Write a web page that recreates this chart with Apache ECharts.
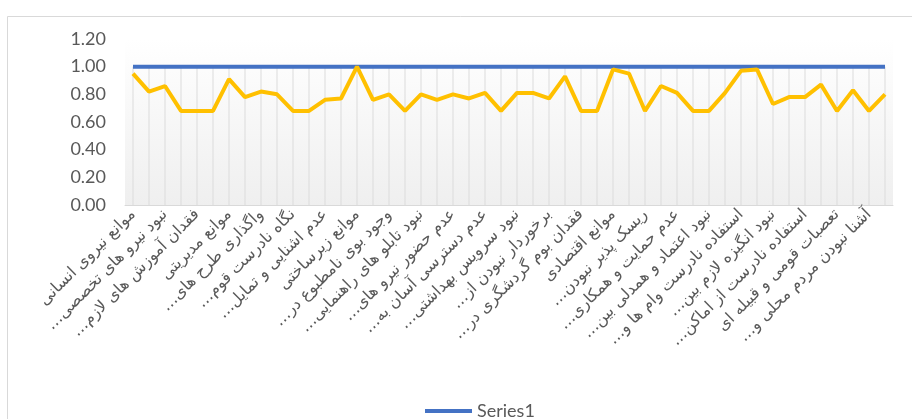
<!DOCTYPE html>
<html>
<head>
<meta charset="utf-8">
<script src="https://cdn.jsdelivr.net/npm/echarts@6/dist/echarts.min.js"></script>
<style>
  html, body { margin: 0; padding: 0; background: #ffffff; }
  #chart { width: 912px; height: 419px; }
</style>
</head>
<body>
<div id="chart"></div>
<script>
const RLM = '\u200F';
const categories = [
  'موانع نیروی انسانی', '',
  'نبود نیرو های تخصصی…' + RLM, '',
  'فقدان آموزش های لازم…' + RLM, '',
  'موانع مدیریتی', '',
  'واگذاری طرح های…' + RLM, '',
  'نگاه نادرست قوم…' + RLM, '',
  'عدم اشنایی و تمایل…' + RLM, '',
  'موانع زیرساختی', '',
  'وجود بوی نامطبوع در…' + RLM, '',
  'نبود تابلو های راهنمایی…' + RLM, '',
  'عدم حضور نیرو های…' + RLM, '',
  'عدم دسترسی آسان به…' + RLM, '',
  'نبود سرویس بهداشتی…' + RLM, '',
  'برخوردار نبودن از…' + RLM, '',
  'فقدان بوم گردشگری در…' + RLM, '',
  'موانع اقتصادی', '',
  'ریسک پذیر نبودن…' + RLM, '',
  'عدم حمایت و همکاری…' + RLM, '',
  'نبود اعتماد و همدلی بین…' + RLM, '',
  'استفاده نادرست وام ها و…' + RLM, '',
  'نبود انگیزه لازم بین…' + RLM, '',
  'استفاده نادرست از اماکن…' + RLM, '',
  'تعصبات قومی و قبیله ای', '',
  'آشنا نبودن مردم محلی و…' + RLM, ''
];

const series1 = [
  1, 1, 1, 1, 1, 1, 1, 1, 1, 1, 1, 1,
  1, 1, 1, 1, 1, 1, 1, 1, 1, 1, 1, 1,
  1, 1, 1, 1, 1, 1, 1, 1, 1, 1, 1, 1,
  1, 1, 1, 1, 1, 1, 1, 1, 1, 1, 1, 1
];

const series2 = [
  0.95, 0.82, 0.86, 0.68, 0.68, 0.68, 0.91, 0.78, 0.82, 0.80, 0.68, 0.68,
  0.76, 0.77, 1.00, 0.76, 0.80, 0.68, 0.80, 0.76, 0.80, 0.77, 0.81, 0.68,
  0.81, 0.81, 0.77, 0.93, 0.68, 0.68, 0.98, 0.95, 0.68, 0.86, 0.81, 0.68,
  0.68, 0.81, 0.97, 0.98, 0.73, 0.78, 0.78, 0.87, 0.68, 0.83, 0.68, 0.80
];

const yTicks = { min: 0, max: 1.2, interval: 0.2 };

const chart = echarts.init(document.getElementById('chart'), null, { renderer: 'canvas' });
chart.setOption({
  animation: false,
  backgroundColor: '#ffffff',
  graphic: [{
    type: 'rect',
    left: 5, top: 14,
    shape: { width: 940, height: 440 },
    style: { fill: 'none', stroke: '#d9d9d9', lineWidth: 1 },
    silent: true, z: -10
  }],
  grid: {
    left: 125, right: 19, top: 39, bottom: 214,
    show: true, borderWidth: 0,
    backgroundColor: new echarts.graphic.LinearGradient(0, 0, 0, 1, [
      { offset: 0, color: '#ffffff' },
      { offset: 1, color: '#efefef' }
    ])
  },
  legend: {
    data: [{ name: 'Series1', icon: 'rect' }],
    left: 420, top: 397,
    itemWidth: 47, itemHeight: 4,
    textStyle: { fontFamily: 'Lato, "DejaVu Sans"', fontSize: 18, color: '#595959' }
  },
  xAxis: {
    type: 'category',
    data: categories,
    boundaryGap: true,
    axisLine: { show: true, lineStyle: { color: '#d9d9d9', width: 1 } },
    axisTick: { show: false },
    axisLabel: {
      interval: 1,
      rotate: 45,
      margin: 7,
      fontFamily: '"DejaVu Sans"',
      fontSize: 16,
      color: '#595959'
    },
    splitLine: { show: false }
  },
  yAxis: {
    type: 'value',
    min: yTicks.min, max: yTicks.max, interval: yTicks.interval,
    axisLine: { show: false },
    axisTick: { show: false },
    splitLine: { show: false },
    axisLabel: {
      margin: 19,
      fontFamily: 'Lato, "DejaVu Sans"',
      fontSize: 18,
      color: '#595959',
      formatter: v => v.toFixed(2)
    }
  },
  series: [
    {
      name: 'drop',
      type: 'bar',
      data: series1,
      barWidth: 1,
      itemStyle: { color: '#dcdcdc' },
      silent: true,
      z: 1
    },
    {
      name: 'Series1',
      type: 'line',
      data: series1,
      showSymbol: false,
      symbol: 'none',
      lineStyle: { color: '#4472C4', width: 4 },
      itemStyle: { color: '#4472C4' },
      z: 3
    },
    {
      name: 'Series2',
      type: 'line',
      data: series2,
      showSymbol: false,
      symbol: 'none',
      lineStyle: { color: '#FFC000', width: 4 },
      itemStyle: { color: '#FFC000' },
      z: 4
    }
  ]
});
</script>
</body>
</html>
